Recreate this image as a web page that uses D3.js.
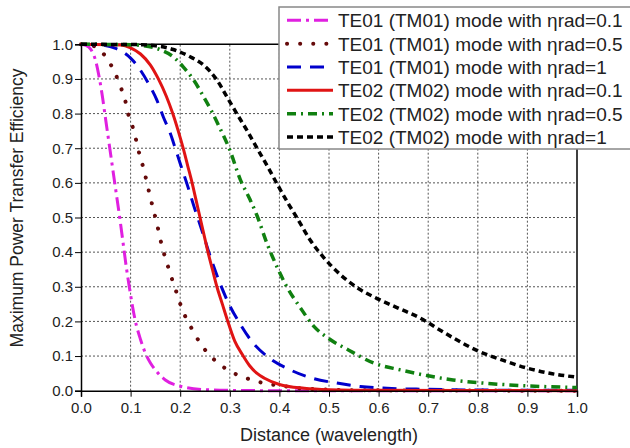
<!DOCTYPE html>
<html><head><meta charset="utf-8">
<script src="https://cdn.jsdelivr.net/npm/d3@7"></script>
<style>
html,body{margin:0;padding:0;background:#fff;}
svg{display:block;font-family:"Liberation Sans",Arial,sans-serif;}
</style></head>
<body>
<svg id="c" width="630" height="448"></svg>
<script>
// ---- data (distance in wavelengths, efficiency) ----
const xTicks = [0,0.1,0.2,0.3,0.4,0.5,0.6,0.7,0.8,0.9,1.0];
const yTicks = [0,0.1,0.2,0.3,0.4,0.5,0.6,0.7,0.8,0.9,1.0];
const seriesNames = [
  "TE01 (TM01) mode with ηrad=0.1",
  "TE01 (TM01) mode with ηrad=0.5",
  "TE01 (TM01) mode with ηrad=1",
  "TE02 (TM02) mode with ηrad=0.1",
  "TE02 (TM02) mode with ηrad=0.5",
  "TE02 (TM02) mode with ηrad=1"
];
const te01_eta01 = [[0,1],[0.01,0.997],[0.02,0.985],[0.03,0.95],[0.036,0.91],[0.042,0.86],[0.05,0.78],[0.06,0.68],[0.068,0.60],[0.079,0.49],[0.085,0.425],[0.092,0.35],[0.099,0.285],[0.109,0.205],[0.12,0.148],[0.13,0.108],[0.14,0.08],[0.15,0.06],[0.17,0.031],[0.2,0.013],[0.25,0.003],[0.3,0.001],[0.4,0],[1,0]];
const te01_eta05 = [[0,1],[0.02,0.997],[0.035,0.988],[0.055,0.953],[0.069,0.916],[0.079,0.88],[0.089,0.839],[0.095,0.80],[0.104,0.762],[0.111,0.724],[0.118,0.682],[0.126,0.642],[0.133,0.60],[0.139,0.563],[0.146,0.522],[0.153,0.483],[0.159,0.443],[0.166,0.403],[0.174,0.365],[0.183,0.324],[0.192,0.286],[0.201,0.247],[0.211,0.212],[0.225,0.175],[0.239,0.14],[0.256,0.108],[0.277,0.079],[0.302,0.055],[0.328,0.039],[0.356,0.026],[0.385,0.018],[0.414,0.012],[0.442,0.007],[0.5,0.003],[0.6,0.001],[1,0]];
const te01_eta1 = [[0,1],[0.04,0.998],[0.07,0.988],[0.1,0.96],[0.12,0.925],[0.136,0.887],[0.153,0.839],[0.166,0.79],[0.18,0.743],[0.19,0.70],[0.2,0.656],[0.213,0.6],[0.23,0.522],[0.244,0.462],[0.26,0.39],[0.277,0.322],[0.297,0.254],[0.321,0.192],[0.344,0.143],[0.378,0.096],[0.422,0.06],[0.466,0.036],[0.516,0.022],[0.563,0.012],[0.617,0.007],[0.7,0.004],[0.8,0.002],[1,0.001]];
const te02_eta01 = [[0,1],[0.08,0.998],[0.1,0.99],[0.12,0.972],[0.14,0.94],[0.156,0.9],[0.172,0.85],[0.185,0.8],[0.196,0.75],[0.206,0.7],[0.215,0.65],[0.224,0.6],[0.232,0.55],[0.24,0.5],[0.248,0.45],[0.256,0.4],[0.265,0.35],[0.274,0.3],[0.285,0.25],[0.296,0.2],[0.31,0.143],[0.325,0.105],[0.34,0.072],[0.355,0.05],[0.37,0.036],[0.4,0.018],[0.45,0.007],[0.5,0.003],[0.6,0.001],[1,0]];
const te02_eta05 = [[0,1],[0.1,0.999],[0.12,0.997],[0.16,0.984],[0.186,0.964],[0.206,0.935],[0.227,0.897],[0.247,0.849],[0.264,0.805],[0.281,0.755],[0.3,0.695],[0.321,0.61],[0.341,0.551],[0.355,0.505],[0.375,0.425],[0.395,0.358],[0.415,0.30],[0.442,0.24],[0.47,0.185],[0.5,0.15],[0.54,0.117],[0.59,0.08],[0.644,0.06],[0.7,0.043],[0.75,0.031],[0.82,0.021],[0.9,0.014],[1,0.009]];
const te02_eta1 = [[0,1],[0.12,0.999],[0.15,0.996],[0.186,0.985],[0.22,0.964],[0.247,0.94],[0.274,0.897],[0.294,0.849],[0.314,0.80],[0.334,0.753],[0.355,0.70],[0.375,0.65],[0.398,0.59],[0.418,0.54],[0.435,0.5],[0.462,0.435],[0.489,0.385],[0.523,0.335],[0.556,0.298],[0.597,0.266],[0.637,0.24],[0.69,0.205],[0.718,0.18],[0.751,0.152],[0.80,0.115],[0.85,0.088],[0.9,0.065],[0.95,0.049],[1,0.039]];

const seriesData = [te01_eta01, te01_eta05, te01_eta1, te02_eta01, te02_eta05, te02_eta1];
const styles = [
  {color:"#e020e0", width:3,   dash:"14,5,3,5", cap:"butt"},
  {color:"#650a0a", width:4,   dash:"0.1,13",   cap:"round"},
  {color:"#0000cc", width:3,   dash:"14,9",     cap:"butt"},
  {color:"#e01414", width:3,   dash:null,       cap:"butt"},
  {color:"#108010", width:3.5, dash:"9,5,2,5",  cap:"butt"},
  {color:"#000000", width:3.5, dash:"6,4",      cap:"butt"}
];

// ---- chart ----
const svg = d3.select("#c");
const x = d3.scaleLinear().domain([0,1]).range([81,577]);
const y = d3.scaleLinear().domain([0,1]).range([390.7,44.3]);

// grid
const grid = svg.append("g");
xTicks.filter(t=>t>0 && t<1).forEach(t=>{
  grid.append("line").attr("x1",x(t)).attr("x2",x(t)).attr("y1",y(0)).attr("y2",y(1))
    .attr("stroke","#555").attr("stroke-width",1).attr("stroke-dasharray","2,2");
});
yTicks.filter(t=>t>0 && t<1).forEach(t=>{
  grid.append("line").attr("x1",x(0)).attr("x2",x(1)).attr("y1",y(t)).attr("y2",y(t))
    .attr("stroke","#555").attr("stroke-width",1).attr("stroke-dasharray","2,2");
});

// frame top & right
svg.append("line").attr("x1",x(0)).attr("x2",x(1)).attr("y1",y(1)).attr("y2",y(1)).attr("stroke","#000").attr("stroke-width",1.5);
svg.append("line").attr("x1",x(1)).attr("x2",x(1)).attr("y1",y(0)).attr("y2",y(1)).attr("stroke","#000").attr("stroke-width",1.5);

// curves
const line = d3.line().x(d=>x(d[0])).y(d=>y(d[1])).curve(d3.curveMonotoneX);
seriesData.forEach((s,i)=>{
  const st = styles[i];
  svg.append("path").datum(s).attr("d",line).attr("fill","none")
    .attr("stroke",st.color).attr("stroke-width",st.width)
    .attr("stroke-dasharray",st.dash).attr("stroke-linecap",st.cap)
    .attr("stroke-linejoin","round");
});

// axes
const fmt = d3.format(".1f");
const xAxis = svg.append("g").attr("transform",`translate(0,${y(0)})`)
  .call(d3.axisBottom(x).tickValues(xTicks).tickFormat(fmt).tickSize(6).tickPadding(6));
const yAxis = svg.append("g").attr("transform",`translate(${x(0)},0)`)
  .call(d3.axisLeft(y).tickValues(yTicks).tickFormat(fmt).tickSize(6).tickPadding(2));
[xAxis,yAxis].forEach(a=>{
  a.select(".domain").attr("stroke","#000").attr("stroke-width",1.5);
  a.selectAll(".tick line").attr("stroke","#000").attr("stroke-width",1);
  a.selectAll(".tick text").attr("font-size",15).attr("fill","#222")
    .attr("font-family","'Liberation Sans',Arial,sans-serif");
});

// axis titles
svg.append("text").attr("x",(x(0)+x(1))/2).attr("y",441).attr("text-anchor","middle")
  .attr("font-size",18).attr("fill","#222").text("Distance (wavelength)");
svg.append("text").attr("transform",`translate(23,208) rotate(-90)`)
  .attr("text-anchor","middle").attr("font-size",17.5).attr("fill","#222")
  .text("Maximum Power Transfer Efficiency");

// legend
const lg = svg.append("g");
lg.append("rect").attr("x",279).attr("y",7).attr("width",370).attr("height",142)
  .attr("fill","#fff").attr("stroke","#888").attr("stroke-width",1.5);
seriesNames.forEach((n,i)=>{
  const st = styles[i];
  const yy = 27.3 + i*23.35;
  lg.append("line").attr("x1",287).attr("x2",333).attr("y1",yy-7).attr("y2",yy-7)
    .attr("stroke",st.color).attr("stroke-width",st.width)
    .attr("stroke-dasharray",st.dash).attr("stroke-linecap",st.cap);
  lg.append("text").attr("x",338).attr("y",yy).attr("font-size",19).attr("fill","#222").text(n);
});
</script>
</body></html>
